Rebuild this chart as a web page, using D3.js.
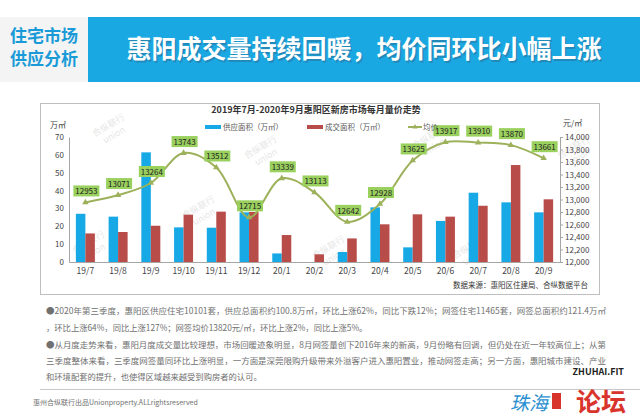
<!DOCTYPE html>
<html><head><meta charset="utf-8">
<script src="https://cdn.jsdelivr.net/npm/d3@7/dist/d3.min.js"></script>
<style>
html,body{margin:0;padding:0;background:#fff;}
svg{display:block;font-family:"Noto Sans CJK SC","Noto Sans",sans-serif;}
</style></head>
<body><svg id="c" width="640" height="420"></svg>
<script>
const months = ["19/7","19/8","19/9","19/10","19/11","19/12","20/1","20/2","20/3","20/4","20/5","20/6","20/7","20/8","20/9"];
const supply = [27, 25.4, 61.4, 19.4, 19.2, 27.8, 4.8, 0, 5.6, 30.6, 8.2, 23, 38.8, 33.4, 27.8];
const deal = [16, 16.8, 20.3, 26.5, 28.2, 28, 15.1, 4.3, 13.2, 21.1, 26.7, 25.4, 31.5, 54.3, 35.1];
const price = [12953, 13071, 13264, 13743, 13512, 12715, 13339, 13113, 12642, 12928, 13625, 13917, 13910, 13870, 13661];
const leftTicks = [0,10,20,30,40,50,60,70];
const rightTicks = [12000,12200,12400,12600,12800,13000,13200,13400,13600,13800,14000];
const seriesNames = ["供应面积（万㎡）","成交面积（万㎡）","均价"];
const paragraph = [
 "●2020年第三季度，惠阳区供应住宅10101套，供应总面积约100.8万㎡，环比上涨62%，同比下跌12%；网签住宅11465套，网签总面积约121.4万㎡",
 "，环比上涨64%，同比上涨127%；网签均价13820元/㎡，环比上涨2%，同比上涨5%。",
 "●从月度走势来看，惠阳月度成交量比较理想，市场回暖迹象明显，8月网签量创下2016年来的新高，9月份略有回调，但仍处在近一年较高位上；从第",
 "三季度整体来看，三季度网签量同环比上涨明显，一方面是深莞限购升级带来外溢客户进入惠阳置业，推动网签走高；另一方面，惠阳城市建设、产业",
 "和环境配套的提升，也使得区域越来越受到购房者的认可。"
];

const svg = d3.select("#c");
const C_BLUE = "#17a9e6", C_RED = "#b84c49", C_LINE = "#9cb15a", C_LBL = "#9ad05e";

// header
svg.append("rect").attr("x",0).attr("y",17).attr("width",88).attr("height",65).attr("fill","#f4f4f4");
svg.append("rect").attr("x",88).attr("y",17).attr("width",552).attr("height",65).attr("fill","#1aa8e2");
svg.append("text").attr("x",44).attr("y",42).attr("text-anchor","middle").attr("font-size",17).attr("font-weight","bold").attr("fill","#1a9bd8").text("住宅市场");
svg.append("text").attr("x",44).attr("y",65).attr("text-anchor","middle").attr("font-size",17).attr("font-weight","bold").attr("fill","#1a9bd8").text("供应分析");
svg.append("text").attr("x",364).attr("y",58).attr("text-anchor","middle").attr("font-size",25).attr("font-weight","bold").attr("fill","#2a6e96").attr("opacity",0.5).attr("dx",1.5).attr("dy",1.5).text("惠阳成交量持续回暖，均价同环比小幅上涨");
svg.append("text").attr("x",364).attr("y",58).attr("text-anchor","middle").attr("font-size",25).attr("font-weight","bold").attr("fill","#fff").text("惠阳成交量持续回暖，均价同环比小幅上涨");

// frame
svg.append("rect").attr("x",40.5).attr("y",103.5).attr("width",559).attr("height",191).attr("fill","none").attr("stroke","#bfbfbf");

// watermarks
const wm = [[110,128],[262,150],[200,210],[90,245],[430,140],[575,150],[470,250],[330,250]];
wm.forEach(([x,y])=>{
  const g = svg.append("g").attr("transform",`translate(${x},${y}) rotate(-30)`).attr("fill","#c8c8c8").attr("opacity",0.45).attr("text-anchor","middle");
  g.append("text").attr("font-size",9).text("合纵联行");
  g.append("text").attr("y",11).attr("font-size",9).text("union");
});

// title & legend
svg.append("text").attr("x",316).attr("y",113).attr("text-anchor","middle").attr("font-size",9).attr("font-weight","bold").attr("fill","#333").text("2019年7月-2020年9月惠阳区新房市场每月量价走势");

const x = d3.scaleBand().domain(months).range([69,560]);
const yL = d3.scaleLinear().domain([0,70]).range([262,137]);
const yR = d3.scaleLinear().domain([12000,14000]).range([262,137]);

// axes
const axL = svg.append("g").attr("transform","translate(69,0)").call(d3.axisLeft(yL).tickValues(leftTicks).tickSize(0).tickPadding(5));
const axR = svg.append("g").attr("transform","translate(560,0)").call(d3.axisRight(yR).tickValues(rightTicks).tickSize(3).tickPadding(2));
const axB = svg.append("g").attr("transform","translate(0,262)").call(d3.axisBottom(x).tickSize(0).tickPadding(6));
[axL,axR,axB].forEach(a=>{
  a.selectAll("path.domain").attr("stroke","#a6a6a6");
  a.selectAll("line").attr("stroke","#a6a6a6");
  a.selectAll("text").attr("fill","#444").attr("font-size",8).attr("font-family","'Noto Sans CJK SC',sans-serif");
});
axB.selectAll("text").attr("font-size",8.5);
svg.append("text").attr("x",50).attr("y",128).attr("font-size",8).attr("fill","#444").text("万㎡");
svg.append("text").attr("x",563).attr("y",126).attr("font-size",8).attr("fill","#444").text("元/㎡");

// bars
const bw = 9.5;
svg.append("g").selectAll("rect").data(supply).join("rect")
  .attr("x",(d,i)=>x(months[i])+x.bandwidth()/2-bw).attr("width",bw)
  .attr("y",d=>yL(d)).attr("height",d=>yL(0)-yL(d)).attr("fill",C_BLUE);
svg.append("g").selectAll("rect").data(deal).join("rect")
  .attr("x",(d,i)=>x(months[i])+x.bandwidth()/2).attr("width",bw)
  .attr("y",d=>yL(d)).attr("height",d=>yL(0)-yL(d)).attr("fill",C_RED);

// line
const cx = i => x(months[i])+x.bandwidth()/2;
const line = d3.line().x((d,i)=>cx(i)).y(d=>yR(d)).curve(d3.curveCatmullRom.alpha(0.5));
svg.append("path").datum(price).attr("d",line).attr("fill","none").attr("stroke",C_LINE).attr("stroke-width",2);
const tri = d3.symbol().type(d3.symbolTriangle).size(18);
svg.append("g").selectAll("path").data(price).join("path")
  .attr("transform",(d,i)=>`translate(${cx(i)},${yR(d)})`).attr("d",tri).attr("fill",C_LINE);
// labels
const lg = svg.append("g").selectAll("g").data(price).join("g")
  .attr("transform",(d,i)=>`translate(${cx(i)+1},${yR(d)-11})`);
lg.append("rect").attr("x",-13).attr("y",-6).attr("width",26).attr("height",11).attr("fill",C_LBL);
lg.append("text").attr("text-anchor","middle").attr("y",2.8).attr("font-size",8).attr("fill","#222").text(d=>d);

// legend
const leg = svg.append("g").attr("font-size",7.5).attr("fill","#595959");
leg.append("rect").attr("x",205).attr("y",125).attr("width",16).attr("height",4).attr("fill",C_BLUE);
leg.append("text").attr("x",223).attr("y",130).text(seriesNames[0]);
leg.append("rect").attr("x",307).attr("y",125).attr("width",16).attr("height",4).attr("fill",C_RED);
leg.append("text").attr("x",325).attr("y",130).text(seriesNames[1]);
leg.append("line").attr("x1",408).attr("x2",422).attr("y1",127).attr("y2",127).attr("stroke",C_LINE).attr("stroke-width",2);
leg.append("path").attr("transform","translate(415,127)").attr("d",d3.symbol().type(d3.symbolTriangle).size(12)).attr("fill",C_LINE);
leg.append("text").attr("x",423).attr("y",130).text(seriesNames[2]);

// source
svg.append("text").attr("x",588).attr("y",288).attr("text-anchor","end").attr("font-size",7.5).attr("fill","#333").text("数据来源：惠阳区住建局、合纵数据平台");

// paragraph
const pys = [311,328,345,361,377];
paragraph.forEach((t,i)=>{
  const el = svg.append("text").attr("x",46).attr("y",pys[i]+3).attr("font-size",8.3).attr("fill","#707070").text(t);
  if(i===0||i===2||i===3){ el.attr("textLength",560).attr("lengthAdjust","spacingAndGlyphs"); }
});

// footer
svg.append("line").attr("x1",40).attr("x2",640).attr("y1",389.5).attr("y2",389.5).attr("stroke","#c8c8c8");
svg.append("text").attr("x",33).attr("y",405).attr("font-size",7).attr("fill","#707070").text("惠州合纵联行出品Unionproperty.ALLrightsreserved");
// forum mark
svg.append("text").attr("x",624).attr("y",375).attr("text-anchor","end").attr("font-size",9).attr("font-weight","bold").attr("fill","#222").text("ZHUHAI.FIT");
svg.append("text").attr("x",548).attr("y",410).attr("text-anchor","end").attr("font-size",19).attr("fill","#2a8fd0").attr("font-style","italic").text("珠海");
svg.append("rect").attr("x",552).attr("y",393).attr("width",9).attr("height",16).attr("fill","#d9342b");
svg.append("text").attr("x",626).attr("y",411).attr("text-anchor","end").attr("font-size",25).attr("font-weight","bold").attr("fill","#d9342b").text("论坛");
</script></body></html>
